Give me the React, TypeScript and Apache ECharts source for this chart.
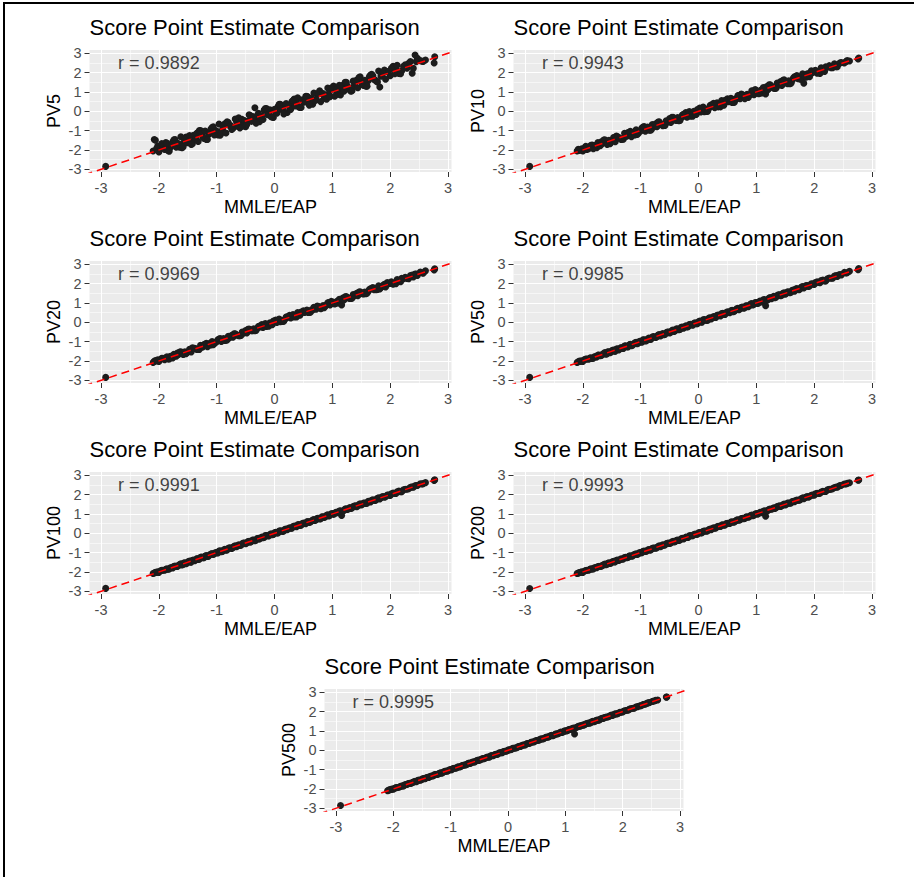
import React, { useEffect, useRef } from "react";
import * as echarts from "echarts";

// MMLE/EAP estimates (shared x for every panel), 230 examinees
const MMLE_EAP = [
  -2.92, -2.10, -2.08, -2.06, -2.02, -1.97, -1.93, -1.88, -1.84, -1.80,
  -1.76, -1.72, -1.68, -1.64, -1.60, -1.57, -1.53, -1.49, -1.45, -1.42,
  -1.38, -1.34, -1.30, -1.26, -1.22, -1.18, -1.14, -1.10, -1.06, -1.02,
  -0.98, -0.94, -0.90, -0.86, -0.82, -0.78, -0.74, -0.70, -0.66, -0.62,
  -0.58, -0.54, -0.50, -0.46, -0.42, -0.38, -0.34, -0.30, -0.26, -0.22,
  -0.18, -0.14, -0.10, -0.06, -0.02, 0.02, 0.06, 0.10, 0.14, 0.18,
  0.22, 0.26, 0.30, 0.34, 0.38, 0.42, 0.46, 0.50, 0.54, 0.58,
  0.62, 0.66, 0.70, 0.74, 0.78, 0.82, 0.86, 0.90, 0.94, 0.98,
  1.02, 1.06, 1.10, 1.14, 1.16, 1.18, 1.22, 1.26, 1.30, 1.34,
  1.38, 1.42, 1.46, 1.50, 1.54, 1.58, 1.62, 1.66, 1.70, 1.74,
  1.78, 1.82, 1.86, 1.90, 1.95, 2.00, 2.05, 2.10, 2.15, 2.20,
  2.26, 2.32, 2.38, 2.43, 2.47, 2.52, 2.57, 2.61, 2.76, 2.77,
  -2.04, -2.00, -1.95, -1.90, -1.86, -1.82, -1.78, -1.74, -1.70, -1.66,
  -1.62, -1.58, -1.55, -1.51, -1.47, -1.44, -1.40, -1.36, -1.32, -1.28,
  -1.24, -1.20, -1.16, -1.12, -1.08, -1.04, -1.00, -0.96, -0.92, -0.88,
  -0.84, -0.80, -0.76, -0.72, -0.68, -0.64, -0.60, -0.56, -0.52, -0.48,
  -0.44, -0.40, -0.36, -0.32, -0.28, -0.24, -0.20, -0.16, -0.12, -0.08,
  -0.04, 0.00, 0.04, 0.08, 0.12, 0.16, 0.20, 0.24, 0.28, 0.32,
  0.36, 0.40, 0.44, 0.48, 0.52, 0.56, 0.60, 0.64, 0.68, 0.72,
  0.76, 0.80, 0.84, 0.88, 0.92, 0.96, 1.00, 1.04, 1.08, 1.12,
  1.20, 1.24, 1.28, 1.32, 1.36, 1.40, 1.44, 1.48, 1.52, 1.56,
  1.60, 1.64, 1.68, 1.72, 1.76, 1.80, 1.84, 1.88, 1.92, 1.97,
  2.02, 2.08, 2.12, 2.18, 2.23, 2.29, 2.35, 2.40, 2.45, 2.55,
];

const PV5 = [
  -2.85, -2.05, -1.46, -1.50, -1.80, -1.95, -1.78, -1.62, -2.04, -1.86,
  -1.58, -1.46, -1.66, -1.86, -1.88, -1.61, -1.33, -1.37, -1.59, -1.68,
  -1.40, -1.12, -1.00, -1.20, -1.40, -1.46, -1.20, -0.92, -0.80, -1.00,
  -1.22, -1.24, -0.94, -0.64, -0.54, -0.74, -0.94, -0.82, -0.52, -0.34,
  -0.54, -0.76, -0.80, -0.52, -0.22, -0.28, 0.18, -0.46, -0.54, -0.24,
  0.06, 0.14, -0.06, -0.28, -0.32, -0.06, 0.24, 0.36, 0.16, -0.06,
  -0.06, 0.22, 0.50, 0.64, 0.44, 0.22, 0.20, 0.48, 0.78, 0.74,
  0.52, 0.36, 0.56, 0.86, 1.06, 0.90, 0.68, 0.62, 0.92, 1.20,
  1.30, 1.10, 0.88, 0.84, 1.06, 1.34, 1.50, 1.30, 1.10, 1.06,
  1.34, 1.62, 1.74, 1.56, 1.34, 1.30, 1.58, 1.88, 1.84, 1.62,
  1.52, 1.26, 1.88, 2.14, 2.05, 1.84, 2.33, 2.16, 1.95, 2.10,
  2.40, 2.48, 1.97, 2.91, 2.74, 2.62, 2.58, 2.65, 2.50, 2.82,
  -1.92, -2.10, -1.67, -1.98, -1.66, -2.06, -1.74, -1.48, -1.86, -1.68,
  -1.32, -1.84, -1.45, -1.63, -1.25, -1.72, -1.24, -1.42, -1.56, -1.00,
  -1.34, -1.02, -1.46, -1.06, -0.84, -1.22, -1.04, -0.66, -1.14, -0.76,
  -1.12, -0.58, -0.74, -0.88, -0.40, -0.72, -0.86, -0.42, -0.48, -0.68,
  -0.18, -0.52, -0.28, -0.62, -0.10, -0.24, -0.42, 0.14, -0.18, 0.08,
  -0.30, 0.10, -0.10, 0.36, 0.10, -0.14, 0.40, 0.30, 0.10, 0.56,
  0.28, 0.70, 0.20, 0.60, 0.48, 0.78, 0.32, 0.66, 0.94, 0.58,
  0.94, 0.50, 0.92, 0.78, 1.20, 0.76, 1.14, 0.78, 1.12, 1.34,
  1.04, 1.50, 1.22, 1.04, 1.56, 1.50, 1.22, 1.78, 1.40, 1.60,
  1.30, 1.80, 1.92, 1.64, 1.56, 2.08, 1.82, 2.00, 1.66, 2.03,
  2.22, 1.94, 2.38, 1.94, 2.33, 2.23, 2.57, 2.22, 2.57, 2.59,
];

const PV10 = [
  -2.85, -2.05, -1.96, -2.02, -1.94, -1.90, -1.98, -1.84, -1.74, -1.86,
  -1.88, -1.74, -1.58, -1.49, -1.56, -1.67, -1.68, -1.53, -1.35, -1.28,
  -1.36, -1.46, -1.45, -1.28, -1.10, -1.03, -1.12, -1.22, -1.20, -1.02,
  -0.86, -0.79, -0.87, -0.97, -0.97, -0.82, -0.64, -0.55, -0.64, -0.74,
  -0.73, -0.56, -0.38, -0.31, -0.38, -0.48, -0.49, -0.34, -0.16, -0.07,
  -0.15, -0.25, -0.25, -0.09, 0.09, 0.17, 0.08, -0.02, -0.01, 0.16,
  0.34, 0.41, 0.33, 0.23, 0.23, 0.39, 0.57, 0.65, 0.56, 0.46,
  0.47, 0.64, 0.82, 0.89, 0.81, 0.71, 0.71, 0.87, 1.05, 1.13,
  1.04, 0.94, 0.95, 1.10, 0.90, 1.28, 1.37, 1.29, 1.19, 1.19,
  1.36, 1.54, 1.61, 1.52, 1.42, 1.43, 1.60, 1.78, 1.85, 1.76,
  1.66, 1.45, 1.76, 1.94, 2.09, 2.06, 1.97, 1.96, 2.13, 2.30,
  2.36, 2.26, 2.30, 2.46, 2.52, 2.50, 2.62, 2.60, 2.70, 2.76,
  -1.98, -2.05, -1.81, -1.94, -1.76, -1.94, -1.76, -1.61, -1.78, -1.67,
  -1.47, -1.71, -1.50, -1.57, -1.36, -1.58, -1.32, -1.39, -1.44, -1.14,
  -1.29, -1.11, -1.31, -1.09, -0.96, -1.13, -1.02, -0.81, -1.03, -0.82,
  -0.98, -0.69, -0.75, -0.80, -0.54, -0.68, -0.73, -0.49, -0.50, -0.58,
  -0.31, -0.46, -0.32, -0.47, -0.19, -0.24, -0.31, -0.01, -0.15, 0.00,
  -0.17, 0.05, -0.03, 0.22, 0.11, 0.01, 0.30, 0.27, 0.19, 0.44,
  0.32, 0.55, 0.32, 0.54, 0.50, 0.67, 0.46, 0.65, 0.81, 0.65,
  0.85, 0.65, 0.88, 0.83, 1.06, 0.86, 1.07, 0.91, 1.10, 1.23,
  1.12, 1.37, 1.25, 1.18, 1.46, 1.45, 1.33, 1.63, 1.46, 1.58,
  1.45, 1.72, 1.80, 1.68, 1.66, 1.94, 1.83, 1.94, 1.79, 2.00,
  2.12, 2.01, 2.25, 2.06, 2.28, 2.26, 2.46, 2.31, 2.51, 2.57,
];

const PV20 = [
  -2.85, -2.08, -2.02, -1.98, -1.94, -1.92, -1.86, -1.84, -1.90, -1.76,
  -1.84, -1.71, -1.59, -1.54, -1.58, -1.64, -1.63, -1.52, -1.39, -1.32,
  -1.35, -1.40, -1.40, -1.28, -1.15, -1.08, -1.12, -1.17, -1.16, -1.03,
  -0.90, -0.84, -0.89, -0.94, -0.92, -0.80, -0.67, -0.60, -0.64, -0.69,
  -0.68, -0.56, -0.43, -0.36, -0.39, -0.44, -0.44, -0.32, -0.19, -0.12,
  -0.16, -0.21, -0.20, -0.07, 0.06, 0.12, 0.08, 0.03, 0.04, 0.16,
  0.29, 0.36, 0.32, 0.27, 0.28, 0.40, 0.53, 0.60, 0.56, 0.51,
  0.52, 0.64, 0.77, 0.84, 0.79, 0.74, 0.76, 0.89, 1.02, 1.08,
  1.04, 0.99, 1.00, 1.12, 0.90, 1.25, 1.32, 1.28, 1.23, 1.24,
  1.37, 1.50, 1.56, 1.52, 1.47, 1.48, 1.60, 1.73, 1.80, 1.75,
  1.70, 1.72, 1.84, 1.97, 2.05, 2.01, 1.97, 2.00, 2.14, 2.28,
  2.33, 2.26, 2.44, 2.50, 2.42, 2.60, 2.54, 2.66, 2.70, 2.77,
  -2.00, -2.03, -1.86, -1.93, -1.79, -1.90, -1.77, -1.65, -1.75, -1.67,
  -1.52, -1.67, -1.52, -1.55, -1.40, -1.53, -1.35, -1.38, -1.40, -1.19,
  -1.27, -1.14, -1.26, -1.10, -1.00, -1.10, -1.01, -0.86, -0.99, -0.84,
  -0.93, -0.73, -0.75, -0.77, -0.59, -0.67, -0.69, -0.51, -0.51, -0.55,
  -0.35, -0.44, -0.33, -0.42, -0.22, -0.24, -0.27, -0.06, -0.14, -0.03,
  -0.13, 0.03, -0.01, 0.17, 0.11, 0.06, 0.27, 0.26, 0.22, 0.40,
  0.33, 0.50, 0.36, 0.52, 0.51, 0.63, 0.51, 0.65, 0.77, 0.67,
  0.82, 0.70, 0.87, 0.85, 1.01, 0.89, 1.05, 0.95, 1.09, 1.19,
  1.15, 1.33, 1.26, 1.23, 1.43, 1.43, 1.37, 1.58, 1.48, 1.57,
  1.50, 1.69, 1.76, 1.69, 1.69, 1.89, 1.83, 1.92, 1.83, 1.99,
  2.09, 2.03, 2.21, 2.10, 2.26, 2.27, 2.42, 2.34, 2.49, 2.56,
];

const PV50 = [
  -2.85, -2.08, -2.04, -2.01, -1.99, -1.93, -1.90, -1.85, -1.87, -1.78,
  -1.80, -1.69, -1.72, -1.61, -1.65, -1.53, -1.58, -1.45, -1.50, -1.38,
  -1.43, -1.30, -1.35, -1.22, -1.27, -1.14, -1.19, -1.06, -1.11, -0.98,
  -1.03, -0.90, -0.95, -0.82, -0.87, -0.74, -0.79, -0.66, -0.71, -0.58,
  -0.63, -0.50, -0.55, -0.42, -0.47, -0.34, -0.39, -0.26, -0.31, -0.18,
  -0.23, -0.10, -0.15, -0.02, -0.07, 0.06, 0.01, 0.14, 0.09, 0.22,
  0.17, 0.30, 0.25, 0.38, 0.33, 0.46, 0.41, 0.54, 0.49, 0.62,
  0.57, 0.70, 0.65, 0.78, 0.73, 0.86, 0.81, 0.94, 0.89, 1.02,
  0.97, 1.10, 1.05, 1.18, 0.86, 1.14, 1.26, 1.22, 1.34, 1.30,
  1.42, 1.37, 1.50, 1.45, 1.58, 1.53, 1.66, 1.61, 1.74, 1.69,
  1.82, 1.77, 1.90, 1.85, 1.99, 1.95, 2.09, 2.05, 2.19, 2.14,
  2.29, 2.28, 2.42, 2.46, 2.45, 2.58, 2.56, 2.64, 2.72, 2.78,
  -2.02, -2.02, -1.90, -1.91, -1.83, -1.86, -1.77, -1.70, -1.73, -1.66,
  -1.57, -1.62, -1.53, -1.53, -1.43, -1.49, -1.37, -1.37, -1.36, -1.23,
  -1.26, -1.17, -1.21, -1.11, -1.04, -1.07, -1.01, -0.91, -0.96, -0.86,
  -0.89, -0.76, -0.76, -0.75, -0.63, -0.65, -0.64, -0.54, -0.51, -0.51,
  -0.40, -0.42, -0.35, -0.37, -0.25, -0.24, -0.24, -0.11, -0.13, -0.05,
  -0.08, 0.02, 0.02, 0.13, 0.12, 0.11, 0.23, 0.25, 0.25, 0.36,
  0.35, 0.45, 0.40, 0.50, 0.51, 0.60, 0.55, 0.64, 0.72, 0.70,
  0.79, 0.75, 0.85, 0.86, 0.97, 0.93, 1.02, 1.00, 1.09, 1.16,
  1.17, 1.28, 1.27, 1.27, 1.39, 1.42, 1.40, 1.53, 1.50, 1.57,
  1.55, 1.67, 1.72, 1.71, 1.73, 1.85, 1.84, 1.90, 1.88, 1.98,
  2.05, 2.06, 2.16, 2.14, 2.25, 2.28, 2.39, 2.37, 2.47, 2.55,
];

const PV100 = [
  -2.85, -2.08, -2.05, -2.02, -1.99, -1.94, -1.91, -1.86, -1.86, -1.78,
  -1.79, -1.70, -1.71, -1.62, -1.64, -1.54, -1.57, -1.46, -1.49, -1.39,
  -1.42, -1.31, -1.34, -1.23, -1.26, -1.15, -1.18, -1.07, -1.10, -0.99,
  -1.02, -0.91, -0.94, -0.83, -0.86, -0.75, -0.78, -0.67, -0.70, -0.59,
  -0.62, -0.51, -0.54, -0.43, -0.46, -0.35, -0.38, -0.27, -0.30, -0.19,
  -0.22, -0.11, -0.14, -0.03, -0.06, 0.05, 0.02, 0.13, 0.10, 0.21,
  0.18, 0.29, 0.26, 0.37, 0.34, 0.45, 0.42, 0.53, 0.50, 0.61,
  0.58, 0.69, 0.66, 0.77, 0.74, 0.85, 0.82, 0.93, 0.90, 1.01,
  0.98, 1.09, 1.06, 1.17, 0.92, 1.15, 1.25, 1.23, 1.33, 1.31,
  1.41, 1.38, 1.49, 1.46, 1.57, 1.54, 1.65, 1.62, 1.73, 1.70,
  1.81, 1.78, 1.89, 1.86, 1.98, 1.96, 2.08, 2.06, 2.18, 2.15,
  2.28, 2.30, 2.40, 2.46, 2.47, 2.56, 2.57, 2.62, 2.73, 2.77,
  -2.02, -2.02, -1.91, -1.91, -1.84, -1.85, -1.77, -1.71, -1.72, -1.66,
  -1.58, -1.61, -1.53, -1.53, -1.44, -1.48, -1.38, -1.37, -1.35, -1.24,
  -1.26, -1.18, -1.20, -1.11, -1.05, -1.06, -1.01, -0.92, -0.95, -0.86,
  -0.88, -0.77, -0.76, -0.74, -0.64, -0.65, -0.63, -0.54, -0.51, -0.50,
  -0.41, -0.42, -0.35, -0.36, -0.26, -0.24, -0.23, -0.12, -0.13, -0.06,
  -0.07, 0.02, 0.02, 0.12, 0.12, 0.12, 0.22, 0.25, 0.26, 0.35,
  0.35, 0.44, 0.41, 0.50, 0.51, 0.59, 0.56, 0.64, 0.71, 0.70,
  0.78, 0.76, 0.85, 0.86, 0.96, 0.94, 1.02, 1.01, 1.09, 1.15,
  1.18, 1.27, 1.27, 1.28, 1.38, 1.42, 1.41, 1.52, 1.50, 1.57,
  1.56, 1.66, 1.71, 1.71, 1.74, 1.84, 1.84, 1.90, 1.89, 1.98,
  2.04, 2.06, 2.15, 2.15, 2.25, 2.28, 2.38, 2.38, 2.47, 2.55,
];

const PV200 = [
  -2.86, -2.08, -2.06, -2.03, -1.99, -1.95, -1.91, -1.86, -1.85, -1.79,
  -1.78, -1.71, -1.70, -1.63, -1.63, -1.55, -1.56, -1.47, -1.48, -1.40,
  -1.41, -1.32, -1.33, -1.24, -1.25, -1.16, -1.17, -1.08, -1.09, -1.00,
  -1.01, -0.92, -0.93, -0.84, -0.85, -0.76, -0.77, -0.68, -0.69, -0.60,
  -0.61, -0.52, -0.53, -0.44, -0.45, -0.36, -0.37, -0.28, -0.29, -0.20,
  -0.21, -0.12, -0.13, -0.04, -0.05, 0.04, 0.03, 0.12, 0.11, 0.20,
  0.19, 0.28, 0.27, 0.36, 0.35, 0.44, 0.43, 0.52, 0.51, 0.60,
  0.59, 0.68, 0.67, 0.76, 0.75, 0.84, 0.83, 0.92, 0.91, 1.00,
  0.99, 1.08, 1.07, 1.16, 0.88, 1.16, 1.24, 1.24, 1.32, 1.32,
  1.40, 1.39, 1.48, 1.47, 1.56, 1.55, 1.64, 1.63, 1.72, 1.71,
  1.80, 1.79, 1.88, 1.87, 1.97, 1.97, 2.07, 2.07, 2.17, 2.16,
  2.27, 2.31, 2.39, 2.45, 2.48, 2.55, 2.58, 2.61, 2.74, 2.76,
  -2.02, -2.02, -1.92, -1.91, -1.84, -1.84, -1.77, -1.72, -1.72, -1.66,
  -1.59, -1.60, -1.53, -1.53, -1.45, -1.47, -1.38, -1.37, -1.34, -1.25,
  -1.26, -1.18, -1.19, -1.11, -1.06, -1.06, -1.01, -0.93, -0.94, -0.86,
  -0.87, -0.78, -0.76, -0.74, -0.65, -0.65, -0.62, -0.54, -0.51, -0.50,
  -0.42, -0.42, -0.35, -0.35, -0.26, -0.24, -0.22, -0.13, -0.13, -0.06,
  -0.06, 0.02, 0.02, 0.11, 0.12, 0.13, 0.22, 0.25, 0.26, 0.34,
  0.35, 0.43, 0.42, 0.50, 0.51, 0.58, 0.57, 0.64, 0.70, 0.70,
  0.78, 0.77, 0.85, 0.86, 0.95, 0.94, 1.02, 1.02, 1.09, 1.14,
  1.18, 1.26, 1.27, 1.29, 1.38, 1.42, 1.42, 1.51, 1.50, 1.57,
  1.57, 1.66, 1.70, 1.71, 1.74, 1.83, 1.84, 1.90, 1.90, 1.98,
  2.04, 2.06, 2.14, 2.16, 2.25, 2.28, 2.37, 2.38, 2.47, 2.55,
];

const PV500 = [
  -2.86, -2.09, -2.06, -2.04, -2.00, -1.95, -1.92, -1.87, -1.85, -1.79,
  -1.77, -1.71, -1.69, -1.63, -1.62, -1.55, -1.55, -1.48, -1.47, -1.41,
  -1.40, -1.33, -1.32, -1.25, -1.24, -1.17, -1.16, -1.09, -1.08, -1.01,
  -1.00, -0.93, -0.92, -0.85, -0.84, -0.77, -0.76, -0.69, -0.68, -0.61,
  -0.60, -0.53, -0.52, -0.45, -0.44, -0.37, -0.36, -0.29, -0.28, -0.21,
  -0.20, -0.13, -0.12, -0.05, -0.04, 0.03, 0.04, 0.11, 0.12, 0.19,
  0.20, 0.27, 0.28, 0.35, 0.36, 0.43, 0.44, 0.51, 0.52, 0.59,
  0.60, 0.67, 0.68, 0.75, 0.76, 0.83, 0.84, 0.91, 0.92, 0.99,
  1.00, 1.07, 1.08, 1.15, 0.84, 1.17, 1.23, 1.25, 1.31, 1.33,
  1.39, 1.40, 1.47, 1.48, 1.55, 1.56, 1.63, 1.64, 1.71, 1.72,
  1.79, 1.80, 1.87, 1.88, 1.96, 1.98, 2.06, 2.08, 2.16, 2.17,
  2.26, 2.31, 2.38, 2.44, 2.47, 2.53, 2.58, 2.60, 2.75, 2.76,
  -2.02, -2.01, -1.93, -1.91, -1.85, -1.84, -1.77, -1.72, -1.71, -1.66,
  -1.60, -1.59, -1.54, -1.52, -1.46, -1.46, -1.39, -1.36, -1.33, -1.26,
  -1.25, -1.19, -1.18, -1.11, -1.07, -1.05, -1.00, -0.94, -0.93, -0.87,
  -0.86, -0.79, -0.76, -0.73, -0.66, -0.64, -0.61, -0.55, -0.51, -0.49,
  -0.43, -0.41, -0.35, -0.34, -0.27, -0.24, -0.21, -0.14, -0.12, -0.07,
  -0.05, 0.01, 0.03, 0.10, 0.12, 0.14, 0.21, 0.25, 0.27, 0.33,
  0.35, 0.42, 0.43, 0.49, 0.52, 0.57, 0.58, 0.64, 0.69, 0.71,
  0.77, 0.78, 0.85, 0.87, 0.94, 0.95, 1.01, 1.03, 1.09, 1.13,
  1.19, 1.25, 1.28, 1.30, 1.37, 1.41, 1.43, 1.50, 1.51, 1.56,
  1.58, 1.65, 1.69, 1.72, 1.75, 1.82, 1.84, 1.89, 1.91, 1.97,
  2.03, 2.07, 2.13, 2.17, 2.24, 2.29, 2.36, 2.39, 2.46, 2.55,
];

const PANEL_NAMES = ["PV5", "PV10", "PV20", "PV50", "PV100", "PV200", "PV500"];
const PANEL_VALUES = [PV5, PV10, PV20, PV50, PV100, PV200, PV500];
const R_VALUES = ["0.9892", "0.9943", "0.9969", "0.9985", "0.9991", "0.9993", "0.9995"];

const TITLE = "Score Point Estimate Comparison";
const X_NAME = "MMLE/EAP";
const MAJOR_TICKS = [-3, -2, -1, 0, 1, 2, 3];
const MINOR_TICKS = [-2.5, -1.5, -0.5, 0.5, 1.5, 2.5];
const X_RANGE = [-3.2, 3.06];
const Y_RANGE = [-3.14, 3.17];
const ANNOT_POS = [-2, 2.5];
const REF_LINE = [[-3.5, -3.5], [3.5, 3.5]];

// layout (pixels)
const PANEL_POS = [
  { left: 89.5, top: 50, width: 362 },
  { left: 513.5, top: 50, width: 362 },
  { left: 89.5, top: 261, width: 362 },
  { left: 513.5, top: 261, width: 362 },
  { left: 89.5, top: 472, width: 362 },
  { left: 513.5, top: 472, width: 362 },
  { left: 324.5, top: 689, width: 359 },
];
const PANEL_H = 122;
const FONT = "'Liberation Sans', Arial, Helvetica, sans-serif";

function buildOption() {
  const grid: any[] = [];
  const xAxis: any[] = [];
  const yAxis: any[] = [];
  const series: any[] = [];
  const title: any[] = [];

  PANEL_NAMES.forEach((name, k) => {
    const p = PANEL_POS[k];
    grid.push({
      left: p.left,
      top: p.top,
      width: p.width,
      height: PANEL_H,
      show: true,
      backgroundColor: "#EBEBEB",
      borderWidth: 0,
      containLabel: false,
    });
    title.push({
      text: TITLE,
      left: p.left,
      top: p.top - 34,
      padding: 0,
      textStyle: { fontSize: 22, fontWeight: "normal", color: "#000", fontFamily: FONT },
    });
    const majorX = {
      type: "value",
      gridIndex: k,
      min: X_RANGE[0],
      max: X_RANGE[1],
      position: "bottom",
      name: X_NAME,
      nameLocation: "middle",
      nameGap: 26,
      nameTextStyle: { fontSize: 18, color: "#000", fontFamily: FONT },
      axisLine: { show: false, onZero: false },
      axisTick: { show: true, length: 5, customValues: MAJOR_TICKS, lineStyle: { color: "#333", width: 1 } },
      axisLabel: { show: true, customValues: MAJOR_TICKS, margin: 8, fontSize: 14.5, color: "#4D4D4D", fontFamily: FONT },
      splitLine: { show: true, lineStyle: { color: "#FFFFFF", width: 1.1 } },
      z: 1,
    };
    const minorX = {
      type: "value",
      gridIndex: k,
      min: X_RANGE[0],
      max: X_RANGE[1],
      position: "top",
      axisLine: { show: false, onZero: false },
      axisTick: { show: false, customValues: MINOR_TICKS },
      axisLabel: { show: false },
      splitLine: { show: true, lineStyle: { color: "#FFFFFF", width: 0.55 } },
      z: 0,
    };
    const majorY = {
      type: "value",
      gridIndex: k,
      min: Y_RANGE[0],
      max: Y_RANGE[1],
      position: "left",
      name: name,
      nameLocation: "middle",
      nameGap: 27,
      nameTextStyle: { fontSize: 18, color: "#000", fontFamily: FONT },
      axisLine: { show: false, onZero: false },
      axisTick: { show: true, length: 5, customValues: MAJOR_TICKS, lineStyle: { color: "#333", width: 1 } },
      axisLabel: { show: true, customValues: MAJOR_TICKS, margin: 8, fontSize: 14.5, color: "#4D4D4D", fontFamily: FONT },
      splitLine: { show: true, lineStyle: { color: "#FFFFFF", width: 1.1 } },
      z: 1,
    };
    const minorY = {
      type: "value",
      gridIndex: k,
      min: Y_RANGE[0],
      max: Y_RANGE[1],
      position: "right",
      axisLine: { show: false, onZero: false },
      axisTick: { show: false, customValues: MINOR_TICKS },
      axisLabel: { show: false },
      splitLine: { show: true, lineStyle: { color: "#FFFFFF", width: 0.55 } },
      z: 0,
    };
    xAxis.push(majorX, minorX);
    yAxis.push(majorY, minorY);
    const xi = xAxis.length - 2;
    const yi = yAxis.length - 2;
    const ys = PANEL_VALUES[k];
    series.push({
      type: "scatter",
      xAxisIndex: xi,
      yAxisIndex: yi,
      data: MMLE_EAP.map((x, i) => [x, ys[i]]),
      symbol: "circle",
      symbolSize: 7,
      itemStyle: { color: "#1c1c1c", opacity: 1 },
      silent: true,
      large: false,
      z: 2,
    });
    series.push({
      type: "line",
      xAxisIndex: xi,
      yAxisIndex: yi,
      data: REF_LINE,
      symbol: "none",
      clip: true,
      lineStyle: { color: "#FF0000", width: 1.5, type: [8, 5] },
      silent: true,
      z: 3,
    });
    series.push({
      type: "scatter",
      xAxisIndex: xi,
      yAxisIndex: yi,
      data: [ANNOT_POS],
      symbol: "circle",
      symbolSize: 1,
      itemStyle: { color: "rgba(0,0,0,0)" },
      label: {
        show: true,
        position: "inside",
        formatter: "r = " + R_VALUES[k],
        fontSize: 18,
        color: "#111111",
        fontFamily: FONT,
      },
      silent: true,
      z: 4,
    });
  });

  return {
    animation: false,
    backgroundColor: "#FFFFFF",
    textStyle: { fontFamily: FONT },
    title,
    grid,
    xAxis,
    yAxis,
    series,
    graphic: [
      { type: "line", shape: { x1: 3, y1: 3, x2: 914, y2: 3 }, style: { stroke: "#000", lineWidth: 2 }, silent: true },
      { type: "line", shape: { x1: 4, y1: 2, x2: 4, y2: 877 }, style: { stroke: "#000", lineWidth: 2 }, silent: true },
    ],
  };
}

export default function App() {
  const ref = useRef<HTMLDivElement>(null);
  useEffect(() => {
    if (!ref.current) return;
    const chart = echarts.init(ref.current, undefined, { renderer: "svg" });
    chart.setOption(buildOption() as any);
    return () => chart.dispose();
  }, []);
  return (
    <div
      ref={ref}
      style={{ position: "absolute", left: 0, top: 0, width: 914, height: 877, background: "#fff" }}
    />
  );
}
